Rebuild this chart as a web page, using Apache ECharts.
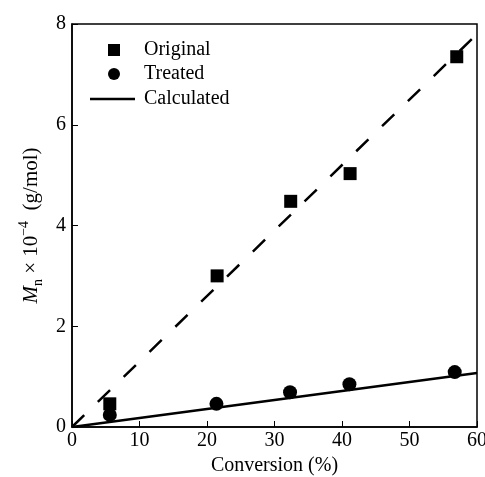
<!DOCTYPE html>
<html>
<head>
<meta charset="utf-8">
<script src="https://cdn.jsdelivr.net/npm/echarts@6/dist/echarts.min.js"></script>
<style>
  html, body { margin: 0; padding: 0; background: #fff; }
  #chart { width: 485px; height: 477px; }
</style>
</head>
<body>
<div id="chart"></div>
<script>
// measured points (conversion %, Mn x 10^-4)
const conversion = [5.6, 21.5, 32.4, 41.2, 57.0];
const originalMn = [0.46, 3.0, 4.48, 5.03, 7.35];
const treatedConv = [5.6, 21.4, 32.3, 41.1, 56.7];
const treatedMn = [0.24, 0.46, 0.69, 0.85, 1.09];
// fit lines, end points
const fitOriginal = [[0, 0], [60, 7.8]];
const calculated = [[0, 0], [60, 1.07]];

const font = 'Liberation Serif';
const pairs = (xs, ys) => xs.map((x, i) => [x, ys[i]]);

let chart = echarts.init(document.getElementById('chart'));

let legendText = { fontFamily: font, fontSize: 20, color: '#000' };

let option = {
    animation: false,
    textStyle: { fontFamily: font, color: '#000' },
    grid: {
        left: 72, right: 8, top: 24, bottom: 50,
        outerBoundsMode: 'none', containLabel: false,
        show: true, borderColor: '#000', borderWidth: 1.5
    },
    legend: [
        {
            orient: 'vertical',
            left: 108, top: 40, padding: 0,
            itemWidth: 12, itemHeight: 12, itemGap: 4,
            textStyle: Object.assign({ padding: [0, 0, 0, 19] }, legendText),
            data: [
                { name: 'Original', icon: 'rect' },
                { name: 'Treated', icon: 'circle' }
            ]
        },
        {
            orient: 'vertical',
            left: 90, top: 89, padding: 0,
            itemWidth: 45, itemHeight: 2.5,
            textStyle: Object.assign({ padding: [0, 0, 0, 4] }, legendText),
            data: [{ name: 'Calculated', icon: 'rect' }]
        }
    ],
    xAxis: {
        type: 'value', min: 0, max: 60, interval: 10,
        name: 'Conversion (%)', nameLocation: 'middle', nameGap: 26,
        nameTextStyle: { fontFamily: font, fontSize: 20, color: '#000' },
        axisLine: { lineStyle: { color: '#000', width: 1.5 } },
        axisTick: { inside: true, length: 6, lineStyle: { color: '#000' } },
        axisLabel: { fontFamily: font, fontSize: 20, color: '#000', margin: 4 },
        splitLine: { show: false }
    },
    yAxis: {
        type: 'value', min: 0, max: 8, interval: 2,
        name: '{i|M}{s|n}{t| × 10}{p|−4}{t|  (g/mol)}',
        nameLocation: 'middle', nameRotate: 90, nameGap: 26,
        nameTextStyle: {
            fontFamily: font, fontSize: 20, color: '#000',
            rich: {
                i: { fontFamily: font, fontStyle: 'italic', fontSize: 21, lineHeight: 28 },
                s: { fontFamily: font, fontSize: 14, lineHeight: 28, verticalAlign: 'bottom' },
                t: { fontFamily: font, fontSize: 21, lineHeight: 28 },
                p: { fontFamily: font, fontSize: 14, lineHeight: 28, verticalAlign: 'top' }
            }
        },
        axisLine: { lineStyle: { color: '#000', width: 1.5 } },
        axisTick: { inside: true, length: 6, lineStyle: { color: '#000' } },
        axisLabel: { fontFamily: font, fontSize: 20, color: '#000', margin: 6 },
        splitLine: { show: false }
    },
    series: [
        {
            name: 'fit', type: 'line', data: fitOriginal, symbol: 'none',
            lineStyle: { color: '#000', width: 2.5, type: [17, 19] }, z: 1
        },
        {
            name: 'Calculated', type: 'line', data: calculated, symbol: 'none',
            itemStyle: { color: '#000' },
            lineStyle: { color: '#000', width: 2.5 }, z: 1
        },
        {
            name: 'Original', type: 'scatter', symbol: 'rect', symbolSize: 13,
            itemStyle: { color: '#000', opacity: 1 }, data: pairs(conversion, originalMn), z: 3
        },
        {
            name: 'Treated', type: 'scatter', symbol: 'circle', symbolSize: 14,
            itemStyle: { color: '#000', opacity: 1 }, data: pairs(treatedConv, treatedMn), z: 4
        }
    ]
};

chart.setOption(option);
</script>
</body>
</html>
